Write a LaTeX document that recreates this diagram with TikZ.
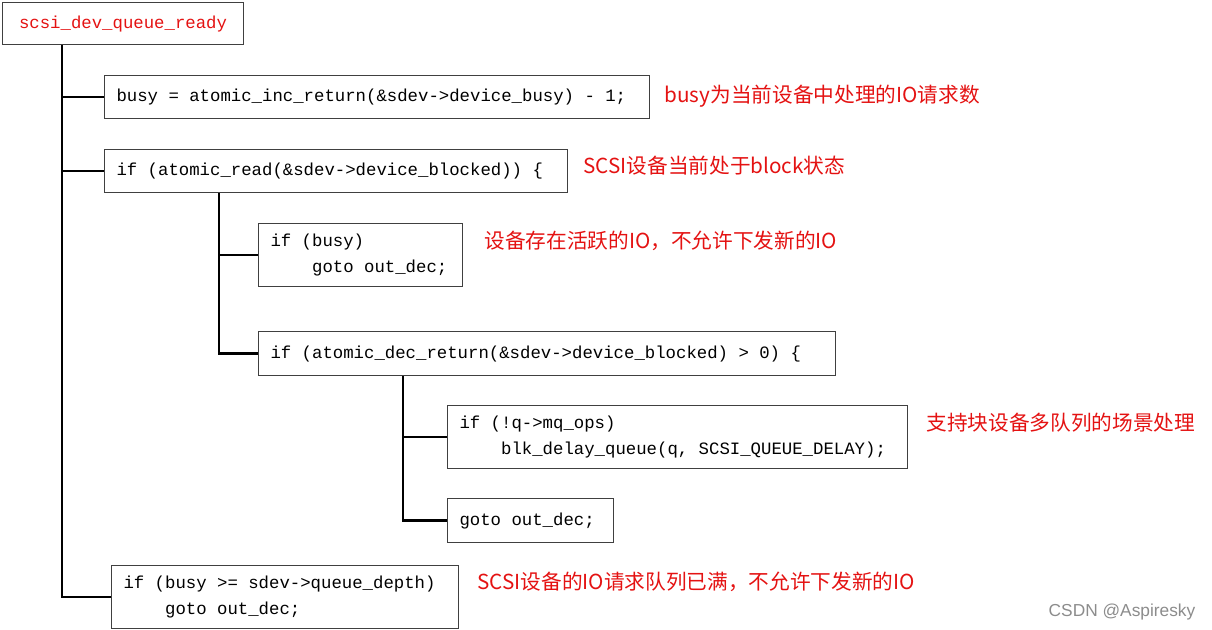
\documentclass[tikz,border=0pt]{standalone}
\usepackage{fontspec}
\setmainfont{Liberation Sans}
\setmonofont{Liberation Mono}
\newfontfamily\cjk{Noto Sans CJK SC}
\usetikzlibrary{positioning}
\definecolor{notered}{RGB}{228,18,18}
\newcommand*{\code}{\ttfamily\fontsize{13}{19.5}\selectfont}
\newcommand*{\codespace}{\spaceskip=\fontcharwd\font`x\relax\xspaceskip=\spaceskip}
\newcommand*{\codetab}{\hspace*{31.2pt}}
\tikzstyle{codebox} = [draw=black!75, line width=0.8pt, rectangle, anchor=north west, inner xsep=9pt, inner ysep=0pt, font=\code, align=left, execute at begin node=\codespace]
\tikzstyle{rootbox} = [codebox, text=notered, minimum width=180.75pt, minimum height=31.5pt, align=center]
\tikzstyle{note} = [font={\cjk\fontsize{15.5}{18}\selectfont}, text=notered, inner sep=0pt]
\tikzstyle{branch} = [line width=2pt]
\tikzstyle{stamp} = [font={\fontsize{13}{15}\selectfont}, text=black!45, inner sep=0pt]

\begin{document}
\begin{tikzpicture}[x=0.75pt, y=-0.75pt]
    \useasboundingbox (0,0) rectangle (1212,630);

    \node (entry) [rootbox] at (2,2) {scsi\_dev\_queue\_ready};
    \node (busy inc) [codebox, text width=391pt, minimum height=32.25pt] at (104,75) {busy = atomic\_inc\_return(\&sdev->device\_busy) - 1;};
    \node (blocked) [codebox, text width=329.25pt, minimum height=32.25pt] at (104,149) {if (atomic\_read(\&sdev->device\_blocked)) \{};
    \node (busy check) [codebox, text width=135pt, minimum height=47.25pt] at (258,223) {if (busy)\\ \codetab goto out\_dec;};
    \node (dec blocked) [codebox, text width=414.75pt, minimum height=33pt] at (258,331) {if (atomic\_dec\_return(\&sdev->device\_blocked) > 0) \{};
    \node (mq ops) [codebox, text width=327pt, minimum height=47.25pt] at (447,405) {if (!q->mq\_ops)\\ \codetab blk\_delay\_queue(q, SCSI\_QUEUE\_DELAY);};
    \node (goto out) [codebox, text width=106.5pt, minimum height=33pt] at (447,498) {goto out\_dec;};
    \node (depth check) [codebox, text width=242.25pt, minimum height=47.25pt] at (111,565) {if (busy >= sdev->queue\_depth)\\ \codetab goto out\_dec;};

    % Notes.
    \node (note busy) [note, right=10.5pt of busy inc.north east, yshift=-15.75pt] {busy为当前设备中处理的IO请求数};
    \node (note blocked) [note, right=11.25pt of blocked.north east, yshift=-12.75pt] {SCSI设备当前处于block状态};
    \node (note active) [note, right=15.75pt of busy check.north east, yshift=-13.5pt] {设备存在活跃的IO，不允许下发新的IO};
    \node (note mq) [note, right=13.5pt of mq ops.north east, yshift=-13.5pt] {支持块设备多队列的场景处理};
    \node (note full) [note, right=13.5pt of depth check.north east, yshift=-12.75pt] {SCSI设备的IO请求队列已满，不允许下发新的IO};
    \node (watermark) [stamp] at (1122,612) {CSDN @Aspiresky};

    % Branches.
    \coordinate (trunk) at ([xshift=45pt]entry.south west);
    \coordinate (blocked stem) at ([xshift=86.25pt]blocked.south west);
    \coordinate (dec stem) at ([xshift=108.75pt]dec blocked.south west);

    \foreach \n in {busy inc, blocked, depth check}
        \draw [branch] (trunk) |- (\n.west);
    \foreach \n in {busy check, dec blocked}
        \draw [branch] (blocked stem) |- (\n.west);
    \foreach \n in {mq ops, goto out}
        \draw [branch] (dec stem) |- (\n.west);
\end{tikzpicture}
\end{document}
